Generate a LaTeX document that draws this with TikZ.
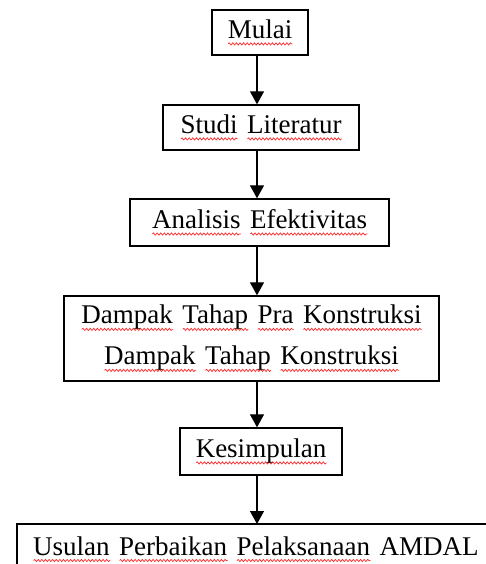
\documentclass[tikz,border=0pt]{standalone}
\usepackage{fontspec}
\setmainfont{Liberation Serif}
\usetikzlibrary{arrows.meta,decorations.pathmorphing}
\newsavebox\rwbox
\newlength\rwlen
\newcommand\rw[1]{\sbox\rwbox{#1}\setlength\rwlen{\wd\rwbox}\rlap{\tikz[baseline=0pt]\draw[red!85!white,line width=0.7pt,decorate,decoration={snake,amplitude=1.1pt,segment length=3.6pt}] (0pt,-5.5pt) -- (\rwlen,-5.5pt);}\usebox\rwbox}
\newcommand\widespaces{\spaceskip=9.5pt plus 1pt\relax}
\tikzset{
  box/.style={draw=black, line width=1.4pt, rectangle, inner sep=0pt, align=center,
    font=\fontsize{27}{41}\selectfont, execute at begin node=\widespaces},
  txt/.style={inner sep=0pt, font=\fontsize{27}{41}\selectfont, execute at begin node=\widespaces},
  edge/.style={line width=1.4pt},
  arr/.style={line width=1.3pt, -{Triangle[width=14pt,length=13pt]}}
}
\begin{document}
\begin{tikzpicture}[x=1pt,y=-1pt]
\useasboundingbox (0,0) rectangle (486,564);
\clip (0,0) rectangle (486,564);
\coordinate (ax) at (257,0);
\node[box, minimum width=96pt, minimum height=45pt] (mulai) at (260,32.5) {\rw{Mulai}};
\node[box, minimum width=196pt, minimum height=45pt] (studi) at (261,127.5) {\rw{Studi} \rw{Literatur}};
\node[box, minimum width=259pt, minimum height=47pt] (analisis) at (259.5,222.5) {\rw{Analisis} \rw{Efektivitas}};
\node[box, minimum width=375pt, minimum height=85pt] (dampak) at (251.5,338.5) {\rw{Dampak} \rw{Tahap} \rw{Pra} \rw{Konstruksi}\\ \rw{Dampak} \rw{Tahap} \rw{Konstruksi}};
\node[box, minimum width=162pt, minimum height=47pt] (kesimpulan) at (261,451.5) {\rw{Kesimpulan}};
% last box, cut off by the picture's right and bottom edges
\coordinate (ubl) at (17,570);
\coordinate (utl) at (17,524);
\coordinate (utr) at (492,524);
\draw[edge] (ubl) -- (utl) -- (utr);
\node[txt, anchor=base west] (usulan) at (33,555) {\rw{Usulan} \rw{Perbaikan} \rw{Pelaksanaan} AMDAL};
\draw[arr] (mulai.south -| ax) -- (studi.north -| ax);
\draw[arr] (studi.south -| ax) -- (analisis.north -| ax);
\draw[arr] (analisis.south -| ax) -- (dampak.north -| ax);
\draw[arr] (dampak.south -| ax) -- (kesimpulan.north -| ax);
\draw[arr] (kesimpulan.south -| ax) -- (utl -| ax);
\end{tikzpicture}
\end{document}
